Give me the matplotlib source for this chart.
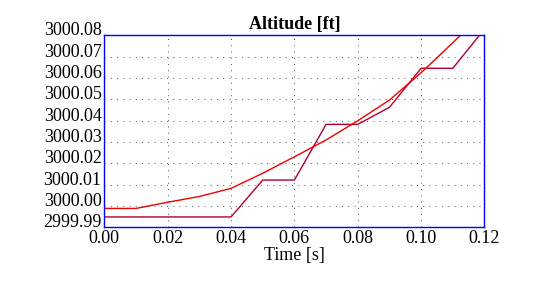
import matplotlib.pyplot as plt
import matplotlib.transforms as mtransforms
import numpy as np

# time samples [s]
time = [0.00, 0.01, 0.02, 0.03, 0.04, 0.05, 0.06, 0.07, 0.08, 0.09, 0.10, 0.11, 0.12]

# smooth altitude estimate [ft]
alt_smooth = [2999.9989, 2999.9989, 3000.0018, 3000.0045, 3000.0083, 3000.0154,
              3000.0231, 3000.0310, 3000.0400, 3000.0497, 3000.0625, 3000.0766,
              3000.0910]

# quantised altitude [ft]
alt_raw = [2999.9949, 2999.9949, 2999.9949, 2999.9949, 2999.9949, 3000.0122,
           3000.0122, 3000.0383, 3000.0383, 3000.0463, 3000.0646, 3000.0646,
           3000.0830]

xticks = [0.00, 0.02, 0.04, 0.06, 0.08, 0.10, 0.12]
yticks = [2999.99, 3000.00, 3000.01, 3000.02, 3000.03, 3000.04, 3000.05,
          3000.06, 3000.07, 3000.08]

plt.rcParams['font.family'] = ['Liberation Serif', 'DejaVu Serif']

fig = plt.figure(figsize=(5.33, 2.88), dpi=100)
ax = fig.add_axes([0.1957, 0.2104, 0.909 - 0.1957, 0.877 - 0.2104])

ax.plot(time, alt_raw, color='#b0002c', lw=1.0)
ax.plot(time, alt_smooth, color='#f00000', lw=1.0)

ax.set_xlim(0.0, 0.12)
ax.set_ylim(2999.99, 3000.08)
ax.set_xticks(xticks)
ax.set_yticks(yticks)
ax.set_xticklabels(["%.2f" % v for v in xticks])
ax.set_yticklabels(["%.2f" % v for v in yticks])
ax.tick_params(length=0, labelsize=13, pad=2)

# labels in the original sit a little above their grid lines
off = mtransforms.ScaledTranslation(0, 6.5 / 100, fig.dpi_scale_trans)
for lab in ax.get_yticklabels():
    lab.set_transform(lab.get_transform() + off)

ax.grid(True, color='#606060', lw=0.75, linestyle=(0, (1, 5)))

for s in ax.spines.values():
    s.set_color('#0000ff')
    s.set_linewidth(1.0)

ax.set_title("Altitude [ft]", fontsize=13, fontweight='bold', pad=4.4)
ax.set_xlabel("Time [s]", fontsize=13, labelpad=0)

fig.savefig("out.png", dpi=100)
